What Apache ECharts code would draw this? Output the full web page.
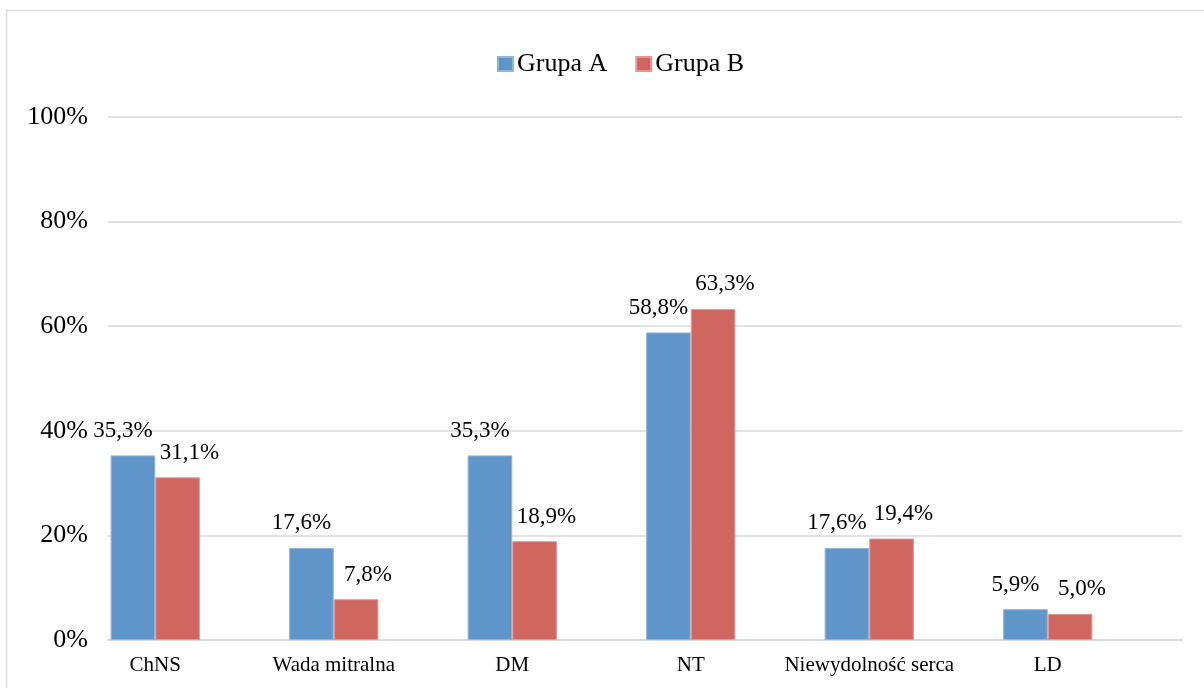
<!DOCTYPE html>
<html>
<head>
<meta charset="utf-8">
<script src="https://cdn.jsdelivr.net/npm/echarts@6/dist/echarts.min.js"></script>
<style>
  html, body { margin: 0; padding: 0; background: #fff; }
  #chart { width: 1204px; height: 688px; }
</style>
</head>
<body>
<div id="chart"></div>
<script>
// Categories and values (percent)
const categories = ['ChNS', 'Wada mitralna', 'DM', 'NT', 'Niewydolność serca', 'LD'];
const grupaA = [35.3, 17.6, 35.3, 58.8, 17.6, 5.9];
const grupaB = [31.1, 7.8, 18.9, 63.3, 19.4, 5.0];
const yTicks = [0, 20, 40, 60, 80, 100];

const FONT = '"Liberation Serif", "Times New Roman", serif';
const fmtPct = v => v.toFixed(1).replace('.', ',') + '%';

const chart = echarts.init(document.getElementById('chart'));

chart.setOption({
  animation: false,
  backgroundColor: '#ffffff',
  graphic: [{
    type: 'rect',
    shape: { x: 6.5, y: 10.5, width: 1220, height: 700 },
    style: { fill: 'none', stroke: '#d9d9d9', lineWidth: 1.5 },
    silent: true,
    z: -1
  }],
  legend: {
    top: 46,
    left: 492,
    itemWidth: 15,
    itemHeight: 14,
    itemGap: 28,
    icon: 'rect',
    textStyle: { fontFamily: FONT, fontSize: 26, color: '#000', padding: [0, 0, 0, -1] },
    data: ['Grupa A', 'Grupa B']
  },
  grid: [
    // frame for the value axis and gridlines
    { left: 108, right: 22, top: 117, bottom: 48 },
    // bar band area
    { left: 66, right: 67, top: 117, bottom: 48 }
  ],
  xAxis: [
    {
      gridIndex: 0,
      type: 'category',
      data: categories,
      axisLine: { show: true, lineStyle: { color: '#d9d9d9', width: 2 } },
      axisTick: { show: false },
      axisLabel: { show: false }
    },
    {
      gridIndex: 1,
      type: 'category',
      data: categories,
      axisLine: { show: false },
      axisTick: { show: false },
      axisLabel: { interval: 0, fontFamily: FONT, fontSize: 21, color: '#000', margin: 15 }
    }
  ],
  yAxis: [
    {
      gridIndex: 0,
      type: 'value',
      min: 0,
      max: 100,
      interval: 20,
      axisLine: { show: false },
      axisTick: { show: false },
      splitLine: { lineStyle: { color: '#d9d9d9', width: 1.5 } },
      axisLabel: {
        fontFamily: FONT, fontSize: 26, color: '#000', margin: 20,
        formatter: v => (yTicks.includes(v) ? v + '%' : '')
      }
    },
    {
      gridIndex: 1,
      type: 'value',
      min: 0,
      max: 100,
      interval: 20,
      show: false
    }
  ],
  series: [
    {
      name: 'Grupa A',
      type: 'bar',
      xAxisIndex: 1,
      yAxisIndex: 1,
      data: grupaA,
      barGap: '0%',
      barCategoryGap: '50%',
      itemStyle: { color: '#5f95c8', borderColor: '#8fb5dc', borderWidth: 1 },
      label: {
        show: true, position: 'top', distance: 13, offset: [-10, 0],
        fontFamily: FONT, fontSize: 23, color: '#000',
        formatter: p => fmtPct(p.value)
      }
    },
    {
      name: 'Grupa B',
      type: 'bar',
      xAxisIndex: 1,
      yAxisIndex: 1,
      data: grupaB,
      barGap: '0%',
      barCategoryGap: '50%',
      itemStyle: { color: '#d06660', borderColor: '#e39894', borderWidth: 1 },
      label: {
        show: true, position: 'top', distance: 13, offset: [12, 0],
        fontFamily: FONT, fontSize: 23, color: '#000',
        formatter: p => fmtPct(p.value)
      }
    }
  ]
});
</script>
</body>
</html>
